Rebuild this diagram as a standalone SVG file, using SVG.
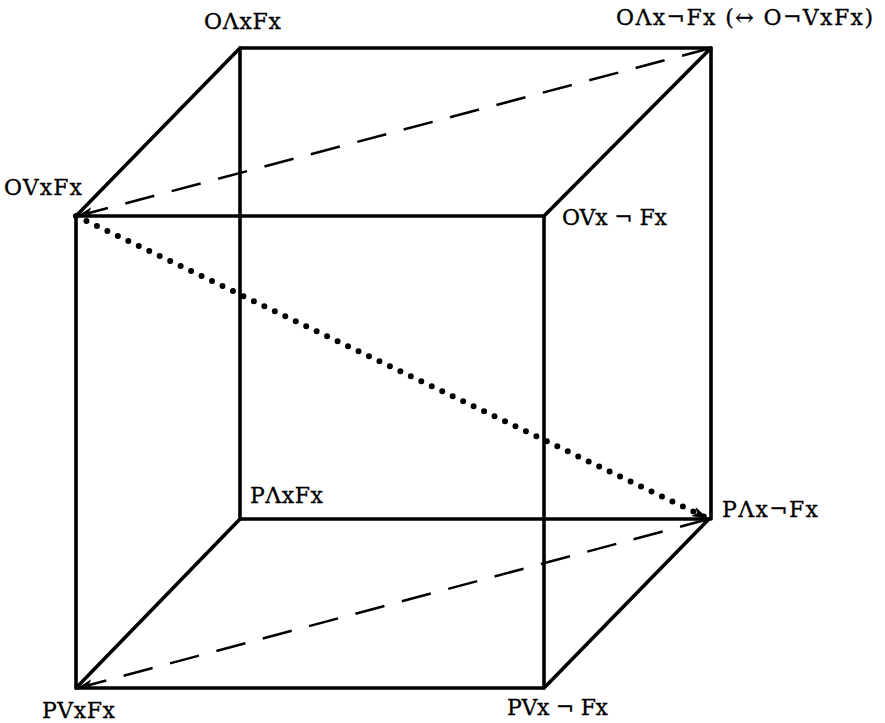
<svg xmlns="http://www.w3.org/2000/svg" width="885" height="723" viewBox="0 0 885 723">
<style>
.edge{stroke:#000;stroke-width:3.6;fill:none;stroke-linecap:round;stroke-linejoin:round}
.dash{stroke:#000;stroke-width:2.5;fill:none;stroke-dasharray:30 18}
.dot{stroke:#000;stroke-width:6;fill:none;stroke-dasharray:0 11.6;stroke-linecap:round}
text{font-family:"DejaVu Serif","Liberation Serif",serif;font-size:22px;fill:#000;stroke:#000;stroke-width:0.3}
</style>
<defs>
<marker id="ah" viewBox="0 0 16 10" refX="15" refY="5" markerWidth="16" markerHeight="10" markerUnits="userSpaceOnUse" orient="auto">
<path d="M0,0 L16,5 L0,10 L4,5 Z" fill="#000"/>
</marker>
</defs>
<rect width="885" height="723" fill="#fff"/>
<g id="connectors">
<path class="edge" d="M240,48 H711 V519 H240 Z"/>
<path class="edge" d="M76,216 H544 V688 H76 Z"/>
<path class="edge" d="M240,48 L76,216"/>
<path class="edge" d="M711,48 L544,216"/>
<path class="edge" d="M240,519 L76,688"/>
<path class="edge" d="M709,519 L544,688"/>
<path class="dash" d="M711,48 L78,216" marker-end="url(#ah)"/>
<path class="dash" d="M709,519 L78,688" marker-end="url(#ah)"/>
<path class="dot" d="M76,216 L707,518" marker-end="url(#ah)"/>
</g>
<g id="n-oaxfx"><text x="204" y="29" textLength="77" lengthAdjust="spacing">OΛxFx</text></g>
<g id="n-oaxnfx"><text x="616" y="25" textLength="257" lengthAdjust="spacing">OΛx¬Fx (↔ O¬VxFx)</text></g>
<g id="n-ovxfx"><text x="4" y="195" textLength="78" lengthAdjust="spacing">OVxFx</text></g>
<g id="n-ovxnfx"><text x="562" y="225" textLength="105" lengthAdjust="spacing">OVx ¬ Fx</text></g>
<g id="n-paxfx"><text x="250" y="503" textLength="73" lengthAdjust="spacing">PΛxFx</text></g>
<g id="n-paxnfx"><text x="722" y="517" textLength="96" lengthAdjust="spacing">PΛx¬Fx</text></g>
<g id="n-pvxfx"><text x="42" y="718" textLength="73" lengthAdjust="spacing">PVxFx</text></g>
<g id="n-pvxnfx"><text x="507" y="715" textLength="101" lengthAdjust="spacing">PVx ¬ Fx</text></g>
</svg>
